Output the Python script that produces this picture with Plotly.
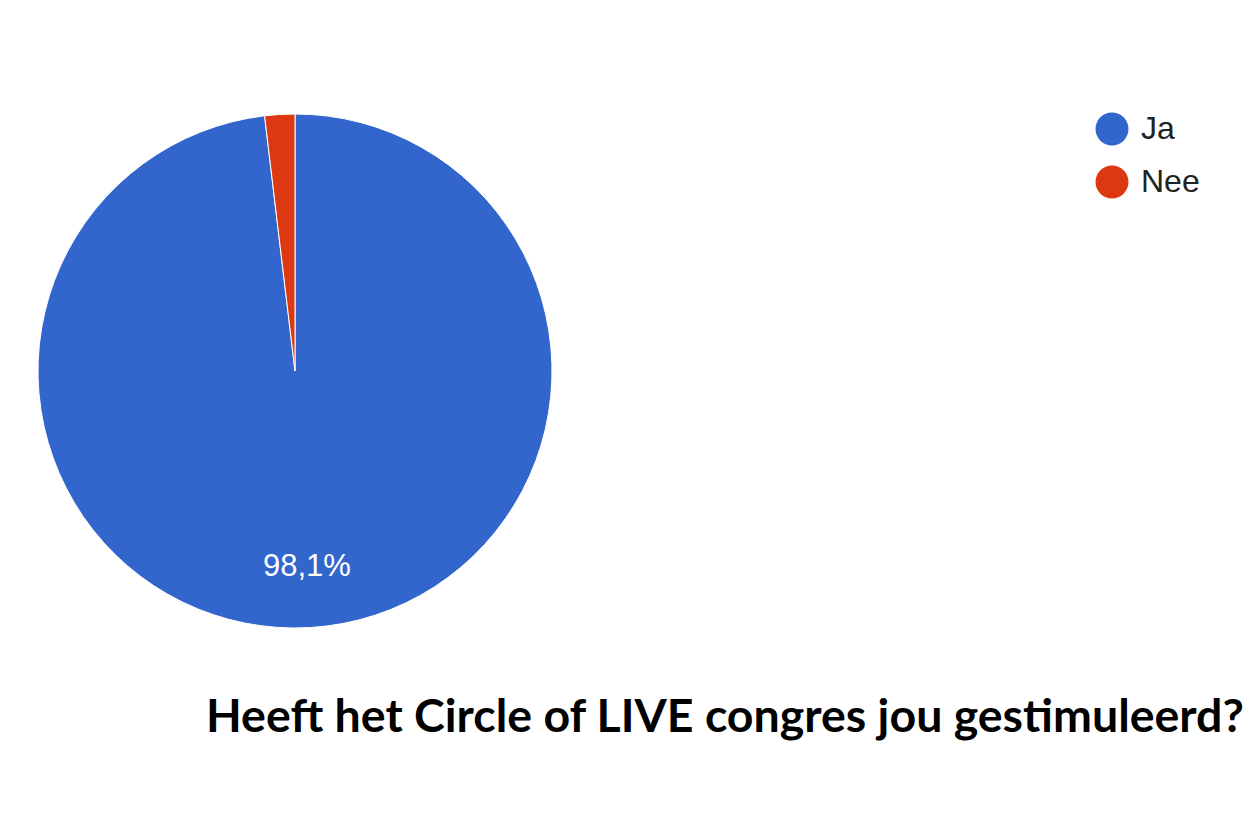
import math
import plotly.graph_objects as go

# ── Data ─────────────────────────────────────────────────────────────
labels = ["Ja", "Nee"]
counts = [52, 1]
colors = ["#3366cc", "#dc3912"]

TITLE = "Heeft het Circle of LIVE congres jou gestimuleerd?"

W, H = 1260, 840
OFF = 8                      # page body margin around the plot div

# pie geometry in page pixels
CX, CY, R = 295, 371, 257


def px(x):
    return (x - OFF) / W


def py(y):
    return 1 - (y - OFF) / H


fig = go.Figure()

fig.add_trace(go.Pie(
    labels=labels,
    values=counts,
    sort=False,
    direction="clockwise",
    rotation=0,
    marker=dict(colors=colors, line=dict(color="#ffffff", width=1)),
    textinfo="none",
    domain=dict(x=[px(CX - R), px(CX + R)], y=[py(CY + R), py(CY - R)]),
    showlegend=False,
    hoverinfo="label+percent+value",
))

# ── Percentage label on the big slice, along its bisector ────────────
total = sum(counts)
share = counts[0] / total
mid = math.pi * share              # clockwise from 12 o'clock
lx = CX + 0.76 * R * math.sin(mid)
ly = CY - 0.76 * R * math.cos(mid)
fig.add_annotation(
    x=px(lx), y=py(ly), xref="paper", yref="paper",
    text=f"{share * 100:.1f}%".replace(".", ","), showarrow=False,
    xanchor="center", yanchor="middle",
    font=dict(family="Liberation Sans, Arial", size=31, color="#ffffff"),
)

# ── Legend (large round swatches, drawn as shapes) ───────────────────
for i, (lab, col) in enumerate(zip(labels, colors)):
    cy = 129 + 53 * i
    r = 16.5
    fig.add_shape(
        type="circle", xref="paper", yref="paper",
        x0=px(1112 - r), x1=px(1112 + r),
        y0=py(cy + r), y1=py(cy - r),
        fillcolor=col, line=dict(width=0),
    )
    fig.add_annotation(
        x=px(1139), y=py(cy - 1), xref="paper", yref="paper",
        text=lab, showarrow=False, xanchor="left", yanchor="middle",
        font=dict(family="Liberation Sans, Arial", size=32, color="#222222"),
    )

# ── Title below the chart ────────────────────────────────────────────
fig.add_annotation(
    x=px(725), y=py(714), xref="paper", yref="paper",
    text=f"<b>{TITLE}</b>", showarrow=False,
    xanchor="center", yanchor="middle",
    font=dict(family="Lato", size=46.5, color="#000000"),
)

fig.update_layout(
    width=W, height=H,
    margin=dict(l=0, r=0, t=0, b=0),
    paper_bgcolor="#ffffff",
    plot_bgcolor="#ffffff",
)

fig.write_html("out.html")
